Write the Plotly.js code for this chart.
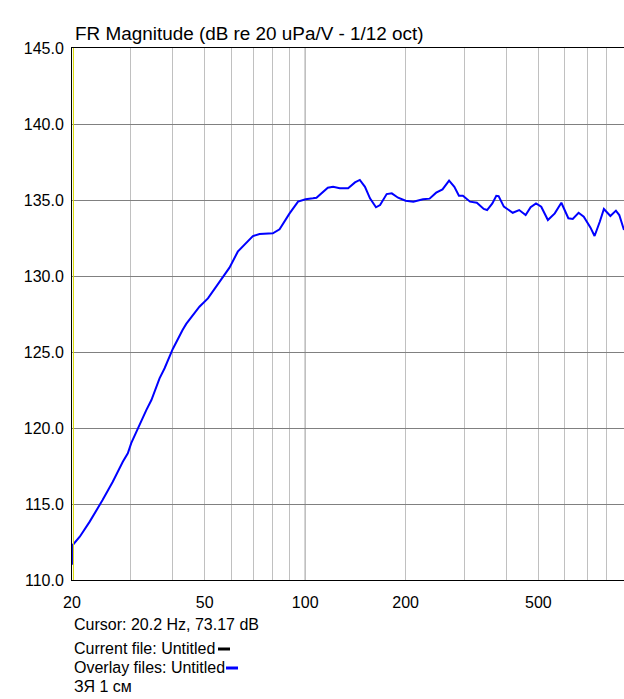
<!DOCTYPE html>
<html><head><meta charset="utf-8">
<script src="https://cdn.plot.ly/plotly-3.0.1.min.js"></script>
<style>body{margin:0;padding:0;background:#fff}#chart{width:624px;height:699px}</style>
</head><body><div id="chart"></div>
<script>
const freqHz = [20, 20.1, 21.1, 22.6, 24.7, 26.5, 28.4, 29.4, 30.1, 31.5, 33.4, 34.6, 36.6, 37.9, 40.1, 42.9, 44.0, 48.2, 51.1, 54.1, 56.7, 59.3, 62.8, 69.7, 73.0, 80.0, 83.8, 89.8, 95.2, 100.3, 105.5, 108.1, 116.9, 121.2, 127.0, 134.5, 141.0, 145.8, 151.1, 156.4, 163.0, 167.7, 175.5, 181.8, 189.9, 200, 211, 225.5, 236, 247, 258, 270, 280, 289, 297, 312, 327, 343, 351, 364, 374, 380, 394, 410, 419, 438, 458, 474, 492, 510, 534, 560, 586, 615, 634, 660, 684, 716, 737, 764, 786, 822, 854, 874, 903];
const magnitudeDb = [111.0, 112.3, 112.85, 113.84, 115.26, 116.47, 117.78, 118.34, 119.0, 119.98, 121.18, 121.84, 123.27, 123.93, 125.2, 126.45, 126.85, 127.98, 128.53, 129.3, 129.95, 130.55, 131.6, 132.63, 132.76, 132.81, 133.07, 134.12, 134.89, 135.05, 135.11, 135.15, 135.81, 135.87, 135.77, 135.77, 136.16, 136.32, 135.87, 135.11, 134.52, 134.67, 135.39, 135.44, 135.15, 134.95, 134.89, 135.05, 135.09, 135.48, 135.70, 136.27, 135.87, 135.28, 135.28, 134.89, 134.82, 134.41, 134.34, 134.78, 135.28, 135.26, 134.56, 134.30, 134.16, 134.34, 134.01, 134.52, 134.78, 134.56, 133.68, 134.12, 134.82, 133.80, 133.75, 134.16, 133.90, 133.20, 132.63, 133.57, 134.41, 133.95, 134.30, 134.01, 133.03];
const xGridVals = [20, 30, 40, 50, 60, 70, 80, 90, 100, 200, 300, 400, 500, 600, 700, 800, 900];
const xTickText = ['20', '', '', '50', '', '', '', '', '100', '200', '', '', '500', '', '', '', ''];
const yTickVals = [110, 115, 120, 125, 130, 135, 140, 145];
const titleText = 'FR Magnitude (dB re 20 uPa/V - 1/12 oct)';
const infoLines = ['Cursor: 20.2 Hz, 73.17 dB', 'Current file: Untitled', 'Overlay files: Untitled', 'ЗЯ 1 см'];
const cursorHz = 20.2;

const FONT = 'Arial, "Liberation Sans", sans-serif';
const W = 624, H = 699, ML = 72, MR = 0, MT = 48, MB = 119;
const PW = W - ML - MR, PH = H - MT - MB;
const px = x => (x - ML) / PW;
const py = y => (H - MB - y) / PH;

const infoY = [624, 648, 667, 686];
const annotations = [{
  text: titleText, xref: 'paper', yref: 'paper', x: px(73), y: py(34),
  xanchor: 'left', yanchor: 'middle', showarrow: false,
  font: {family: FONT, size: 18.9, color: '#000'}
}];
infoLines.forEach((t, i) => annotations.push({
  text: t, xref: 'paper', yref: 'paper', x: px(72), y: py(infoY[i]),
  xanchor: 'left', yanchor: 'middle', showarrow: false,
  font: {family: FONT, size: 16, color: '#000'}
}));

const shapes = [
  {type: 'line', xref: 'x', yref: 'paper', x0: 100, x1: 100, y0: 0, y1: 1, line: {color: '#808080', width: 1}, layer: 'below'},
  {type: 'line', xref: 'x', yref: 'paper', x0: cursorHz, x1: cursorHz, y0: 0, y1: 1, line: {color: '#d8d800', width: 1}},
  {type: 'line', xref: 'paper', yref: 'paper', x0: px(218), x1: px(230), y0: py(649), y1: py(649), line: {color: '#000', width: 3}},
  {type: 'line', xref: 'paper', yref: 'paper', x0: px(226), x1: px(238), y0: py(668), y1: py(668), line: {color: '#0000ff', width: 3}}
];

const trace = {
  x: freqHz, y: magnitudeDb, type: 'scatter', mode: 'lines',
  line: {color: '#0000ff', width: 2},
  hoverinfo: 'skip'
};

const layout = {
  width: W, height: H,
  margin: {l: ML, r: MR, t: MT, b: MB, pad: 0},
  paper_bgcolor: '#fff', plot_bgcolor: '#fff',
  showlegend: false,
  xaxis: {
    type: 'log', range: [Math.log10(20), Math.log10(903)],
    tickmode: 'array', tickvals: xGridVals, ticktext: xTickText,
    showgrid: true, gridcolor: '#c0c0c0', gridwidth: 1,
    showline: true, linecolor: '#000', linewidth: 1, mirror: true,
    ticks: '', zeroline: false, ticklabelstandoff: 8,
    tickfont: {family: FONT, size: 16, color: '#000'}
  },
  yaxis: {
    range: [110, 145], tickmode: 'array', tickvals: yTickVals,
    tickformat: '.1f',
    showgrid: true, gridcolor: '#808080', gridwidth: 1,
    showline: true, linecolor: '#000', linewidth: 1,
    ticks: '', zeroline: false, ticklabelstandoff: 4,
    tickfont: {family: FONT, size: 16, color: '#000'}
  },
  annotations: annotations,
  shapes: shapes
};

Plotly.newPlot('chart', [trace], layout, {displayModeBar: false, staticPlot: true});
</script></body></html>
